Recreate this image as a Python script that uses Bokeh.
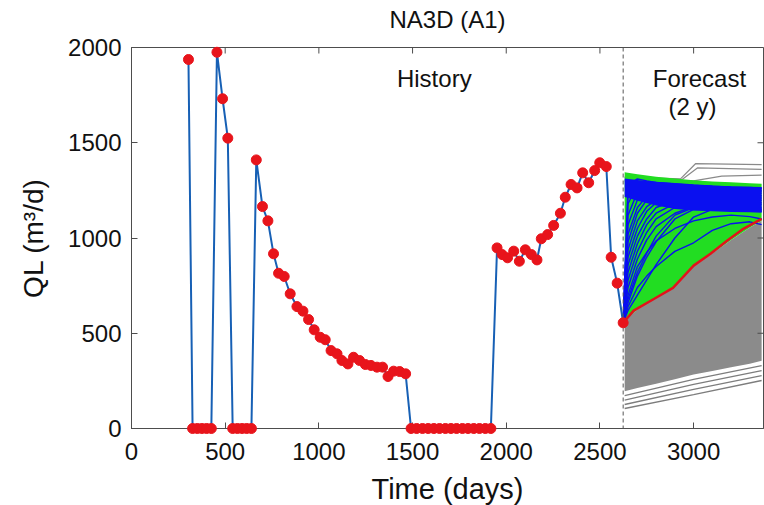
import math
from bokeh.plotting import figure
from bokeh.models import Range1d, Span, Label, FixedTicker
from bokeh.core.properties import value
from bokeh.embed import file_html
from bokeh.resources import INLINE

# ---------------- data ----------------
HIST_DAYS = [304, 326, 351, 376, 401, 426, 456, 486, 514,
             540, 565, 590, 615, 640,
             666, 699, 728, 758, 785, 815, 847, 883, 915, 945, 975, 1007, 1034,
             1065, 1097, 1123, 1155, 1185, 1217, 1248, 1278, 1310, 1340, 1369,
             1399, 1431, 1463,
             1492, 1522, 1553, 1583, 1614, 1644, 1675, 1705, 1735, 1766, 1796,
             1827, 1857, 1888, 1918,
             1951, 1978, 2007, 2040, 2070, 2102, 2134, 2164, 2187, 2221, 2253,
             2289, 2315, 2346, 2378, 2408, 2440, 2472, 2499, 2534, 2560, 2592, 2624]
HIST_QL = [1937, 0, 0, 0, 0, 0, 1975, 1731, 1524,
           0, 0, 0, 0, 0,
           1410, 1165, 1090, 917, 815, 798, 707, 640, 616, 572, 518, 479, 466,
           409, 392, 357, 339, 374, 357, 336, 331, 322, 322, 273,
           301, 299, 287,
           0, 0, 0, 0, 0, 0, 0, 0, 0, 0, 0,
           0, 0, 0, 0,
           948, 913, 896, 931, 878, 938, 913, 885, 996, 1018, 1066,
           1130, 1214, 1281, 1263, 1342, 1290, 1354, 1395, 1375, 899, 763, 555]

# forecast ensemble envelopes (2-year forecast)
FC_DAYS = [2632, 2700, 2800, 2900, 3000, 3100, 3200, 3300, 3363]
GRAY_LOW = [195, 212, 235, 258, 284, 302, 322, 340, 356]
GRAY_HIGH = [565, 625, 685, 745, 850, 920, 990, 1055, 1090]
GREEN_HIGH = [1345, 1335, 1322, 1312, 1303, 1297, 1292, 1288, 1285]
BLUE_HIGH = [1312, 1305, 1295, 1287, 1280, 1275, 1270, 1267, 1265]
BLUE_LOW = [1215, 1195, 1170, 1152, 1145, 1140, 1137, 1135, 1132]

# individual grey members at the bottom of the grey band
GRAY_LINE_DAYS = [2632, 3000, 3363]
GRAY_FRINGE = [[105, 178, 252], [126, 205, 278], [149, 232, 304], [172, 258, 330]]

# grey members that rise above the green band
GRAY_TOP_DAYS = [[2632, 2930, 3010, 3363], [2632, 2935, 3020, 3363], [2632, 3000, 3150, 3363]]
GRAY_TOP_QL = [[1320, 1310, 1390, 1385], [1318, 1305, 1368, 1360], [1300, 1300, 1325, 1330]]

# blue (selected) members fanning out of the last observation
FAN_DAYS = [2624, 2650, 2700, 2750, 2800, 2900, 3000, 3100, 3200, 3300, 3363]
BLUE_FAN = [
    [555, 640, 740, 800, 850, 930, 975, 1040, 1075, 1085, 1070],
    [555, 700, 850, 925, 985, 1050, 1090, 1110, 1120, 1112, 1100],
    [555, 620, 700, 780, 860, 1000, 1110, 1150, 1150, 1145, 1140],
    [555, 660, 800, 900, 980, 1100, 1150, 1150, 1148, 1145, 1142],
    [555, 680, 820, 920, 1010, 1120, 1160, 1160, 1155, 1150, 1148],
    [555, 740, 890, 990, 1060, 1130, 1165, 1165, 1160, 1156, 1152],
    [555, 780, 930, 1030, 1100, 1160, 1175, 1172, 1168, 1165, 1160],
    [555, 820, 970, 1070, 1130, 1180, 1190, 1186, 1182, 1178, 1175],
    [555, 860, 1010, 1100, 1160, 1195, 1200, 1195, 1190, 1188, 1185],
    [555, 900, 1050, 1140, 1185, 1210, 1212, 1208, 1204, 1200, 1198],
    [555, 940, 1090, 1165, 1200, 1220, 1222, 1220, 1215, 1212, 1210],
    [555, 980, 1130, 1200, 1230, 1240, 1238, 1232, 1228, 1226, 1222],
    [555, 1020, 1160, 1220, 1245, 1250, 1248, 1245, 1240, 1238, 1235],
    [555, 1070, 1200, 1250, 1262, 1262, 1258, 1252, 1250, 1248, 1245],
    [555, 1120, 1240, 1265, 1270, 1268, 1262, 1258, 1255, 1252, 1250],
    [555, 1180, 1275, 1285, 1280, 1275, 1270, 1265, 1262, 1260, 1258],
    [555, 1230, 1290, 1290, 1285, 1280, 1275, 1270, 1267, 1265, 1262],
    [555, 1280, 1310, 1300, 1292, 1285, 1278, 1272, 1268, 1266, 1264],
]

# red reference forecast
RED_DAYS = [2624, 2680, 2790, 2890, 3000, 3090, 3180, 3260, 3363]
RED_QL = [555, 619, 681, 738, 855, 917, 987, 1045, 1100]

X_TICKS = [0, 500, 1000, 1500, 2000, 2500, 3000]
Y_TICKS = [0, 500, 1000, 1500, 2000]
X_MAX = 3373
Y_MAX = 2000

TITLE = "NA3D (A1)"
X_TITLE = "Time (days)"
Y_TITLE = "QL (m\u00b3/d)"

FONT = "Liberation Sans"
FRAME = "#4d4d4d"
TXT = "#111111"

PLOT_H = 381           # frame height in px (used to place texts outside the frame)

# ---------------- figure ----------------
p = figure(width=764, height=505, output_backend="svg", toolbar_location=None,
           x_range=Range1d(0, X_MAX), y_range=Range1d(0, Y_MAX),
           min_border_left=131, min_border_right=1, min_border_top=47,
           min_border_bottom=77)
p.xgrid.visible = False
p.ygrid.visible = False
p.outline_line_color = FRAME
p.background_fill_color = "white"
p.border_fill_color = "white"

# grey ensemble
p.varea(x=FC_DAYS, y1=GRAY_LOW, y2=GRAY_HIGH, fill_color="#8b8b8b")
for g in GRAY_FRINGE:
    p.line(GRAY_LINE_DAYS, g, line_color="#7d7d7d", line_width=1.3)
for d, q in zip(GRAY_TOP_DAYS, GRAY_TOP_QL):
    p.line(d, q, line_color="#8a8a8a", line_width=1.2)

# green ensemble
p.varea(x=FC_DAYS, y1=GRAY_HIGH, y2=GREEN_HIGH, fill_color="#22dd22")

# blue ensemble
for b in BLUE_FAN:
    p.line(FAN_DAYS, b, line_color="#0a10f0", line_width=1.4)
p.varea(x=FC_DAYS, y1=BLUE_LOW, y2=BLUE_HIGH, fill_color="#0a10f0")

# red forecast
p.line(RED_DAYS, RED_QL, line_color="#e3131b", line_width=2.5)

# history
p.line(HIST_DAYS, HIST_QL, line_color="#1760b5", line_width=2)
p.scatter(HIST_DAYS, HIST_QL, size=10, fill_color="#e8141b", line_color="#e8141b",
          level="overlay")

# separator between history and forecast
p.add_layout(Span(location=HIST_DAYS[-1], dimension="height", line_color="#555555",
                  line_dash="4 3", line_width=1))

# inward ticks on the top and right edges of the box (outer half is clipped by the frame)
p.scatter(X_TICKS, [Y_MAX] * len(X_TICKS), marker="dash", size=12, angle=math.pi / 2,
          line_color=FRAME, line_width=1)
p.scatter([X_MAX] * len(Y_TICKS), Y_TICKS, marker="dash", size=12,
          line_color=FRAME, line_width=1)

# annotations inside the frame
for txt, x, y in [("History", 1616, 1837), ("Forecast", 3031, 1837), ("(2 y)", 2994, 1690)]:
    p.add_layout(Label(x=x, y=y, text=txt, text_align="center", text_baseline="middle",
                       text_font=FONT, text_font_size="24px", text_color=TXT))

# title (28 px above the frame) and x-axis title (60 px below the frame),
# drawn as overlay-level text glyphs so that they are not clipped to the frame
p.text(x=[X_MAX / 2], y=[Y_MAX * (1 + 28.5 / PLOT_H)], text=[TITLE],
       text_align="center", text_baseline="middle", text_font=value(FONT),
       text_font_size="24px", text_color=TXT, level="overlay")
p.text(x=[X_MAX / 2], y=[-Y_MAX * 60 / PLOT_H], text=[X_TITLE],
       text_align="center", text_baseline="middle", text_font=value(FONT),
       text_font_size="29px", text_color=TXT, level="overlay")

# axes
def style_axis(ax):
    ax.axis_line_color = FRAME
    ax.major_tick_line_color = FRAME
    ax.major_tick_in = 6
    ax.major_tick_out = 0
    ax.minor_tick_line_color = None
    ax.major_label_text_font = FONT
    ax.major_label_text_font_size = "24px"
    ax.major_label_text_color = TXT
    ax.axis_label_text_font = FONT
    ax.axis_label_text_font_style = "normal"
    ax.axis_label_text_color = TXT

xa = p.xaxis[0]
style_axis(xa)
xa.ticker = FixedTicker(ticks=X_TICKS)
xa.major_label_standoff = 14

ya = p.yaxis[0]
style_axis(ya)
ya.ticker = FixedTicker(ticks=Y_TICKS)
ya.major_label_standoff = 10
ya.axis_label = Y_TITLE
ya.axis_label_text_font_size = "28px"
ya.axis_label_standoff = 16

open("out.html", "w").write(file_html(p, INLINE))
